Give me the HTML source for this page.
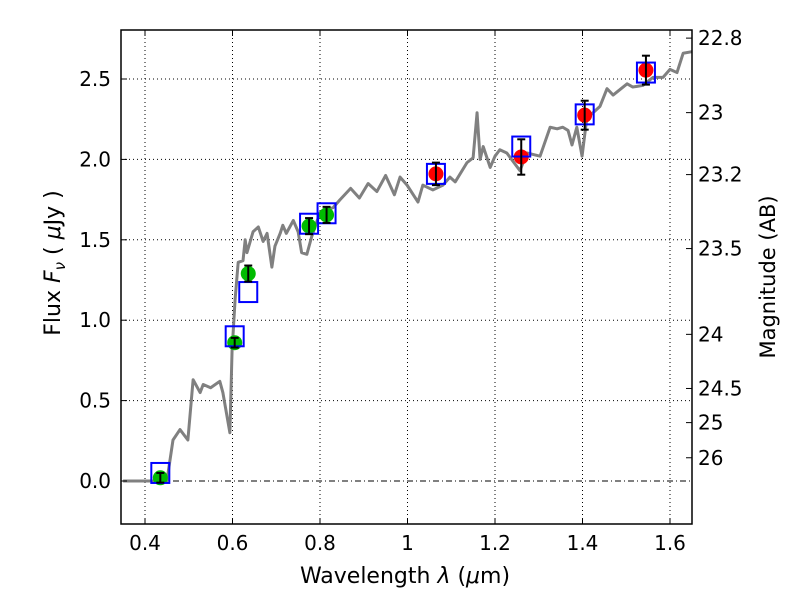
<!DOCTYPE html>
<html><head><meta charset="utf-8"><style>
body{margin:0;background:#fff}
svg{display:block;font-family:"DejaVu Sans","Liberation Sans",sans-serif}
</style></head><body>
<svg id="chart" width="800" height="600">
<g id="grid"></g>
<g id="spec"></g>
<g id="marks"></g>
<g id="axes"></g>
<text x="405" y="583" text-anchor="middle" font-size="22">Wavelength  <tspan font-style="italic">λ</tspan> (<tspan font-style="italic">μ</tspan>m)</text>
<text transform="translate(60,263) rotate(-90)" text-anchor="middle" font-size="22">Flux  <tspan font-style="italic">F</tspan><tspan font-style="italic" font-size="15" dy="5">ν</tspan><tspan dy="-5">  ( </tspan><tspan font-style="italic">μ</tspan>Jy )</text>
<text transform="translate(775,277) rotate(-90)" text-anchor="middle" font-size="21">Magnitude (AB)</text>
</svg>
<script>
const specW=[0.35,0.45,0.464,0.48,0.498,0.51,0.526,0.533,0.55,0.571,0.578,0.594,0.599,0.606,0.613,0.624,0.629,0.633,0.647,0.659,0.67,0.679,0.69,0.697,0.709,0.715,0.723,0.739,0.75,0.758,0.77,0.781,0.8,0.83,0.846,0.87,0.89,0.91,0.93,0.95,0.97,0.983,0.999,1.024,1.035,1.058,1.081,1.097,1.109,1.136,1.15,1.159,1.166,1.173,1.189,1.2,1.211,1.227,1.257,1.273,1.303,1.326,1.342,1.355,1.367,1.376,1.387,1.399,1.41,1.424,1.44,1.456,1.47,1.502,1.515,1.538,1.561,1.584,1.6,1.616,1.63,1.65];
const specF=[0,0,0.255,0.32,0.255,0.63,0.55,0.6,0.58,0.62,0.55,0.3,0.81,1.13,1.36,1.37,1.5,1.42,1.55,1.58,1.49,1.54,1.33,1.46,1.54,1.59,1.54,1.62,1.55,1.42,1.41,1.52,1.67,1.7,1.75,1.82,1.76,1.85,1.8,1.9,1.78,1.89,1.84,1.735,1.84,1.81,1.84,1.89,1.86,1.98,2.01,2.29,2.0,2.08,1.95,2.02,2.06,2.04,1.93,2.04,2.02,2.2,2.19,2.2,2.18,2.09,2.2,2.02,2.26,2.29,2.33,2.44,2.4,2.47,2.45,2.46,2.51,2.51,2.56,2.54,2.66,2.67];
const greenW=[0.435,0.605,0.636,0.775,0.815];
const greenF=[0.02,0.86,1.29,1.585,1.655];
const greenE=[0.03,0.03,0.05,0.05,0.05];
const redW=[1.065,1.26,1.405,1.545];
const redF=[1.91,2.015,2.275,2.555];
const redE=[0.07,0.11,0.09,0.09];
const modelW=[0.435,0.605,0.636,0.775,0.815,1.065,1.26,1.405,1.545];
const modelF=[0.05,0.9,1.175,1.6,1.665,1.91,2.08,2.28,2.54];
const xTicks=[0.4,0.6,0.8,1.0,1.2,1.4,1.6];
const xLabels=["0.4","0.6","0.8","1","1.2","1.4","1.6"];
const yTicks=[0,0.5,1,1.5,2,2.5];
const yLabels=["0.0","0.5","1.0","1.5","2.0","2.5"];
const magTicks=[22.8,23,23.2,23.5,24,24.5,25,26];
const magLabels=["22.8","23","23.2","23.5","24","24.5","25","26"];

const L=121,R=692,T=30,B=524;
const X=w=>145+(w-0.4)*437.5;
const Y=f=>481-f*160.8;
const NS="http://www.w3.org/2000/svg";
function mk(p,tag,a){const e=document.createElementNS(NS,tag);for(const k in a)e.setAttribute(k,a[k]);p.appendChild(e);return e;}
const grid=document.getElementById('grid'),spec=document.getElementById('spec'),marks=document.getElementById('marks'),axes=document.getElementById('axes');
xTicks.forEach((t,i)=>{
 const g=mk(grid,'line',{x1:X(t),x2:X(t),y1:T,y2:B,stroke:'#000','stroke-width':1,'stroke-dasharray':'1,3'});
 
 
 mk(axes,'line',{x1:X(t),x2:X(t),y1:B,y2:B-6,stroke:'#000'});
 mk(axes,'line',{x1:X(t),x2:X(t),y1:T,y2:T+6,stroke:'#000'});
 const tx=mk(axes,'text',{x:X(t),y:B+26,'text-anchor':'middle','font-size':20});
 tx.textContent=xLabels[i];
 
 
});
yTicks.forEach((t,i)=>{
 const g=mk(grid,'line',{x1:L,x2:R,y1:Y(t),y2:Y(t),stroke:'#000','stroke-width':1,'stroke-dasharray':t===0?'6,3,1,3':'1,3'});
 
 
 mk(axes,'line',{x1:L,x2:L+6,y1:Y(t),y2:Y(t),stroke:'#000'});
 const tx=mk(axes,'text',{x:L-10,y:Y(t)+7,'text-anchor':'end','font-size':20});
 tx.textContent=yLabels[i];
 
 
});
magTicks.forEach((m,i)=>{
 const y=Y(Math.pow(10,-0.4*(m-23.9)));
 mk(axes,'line',{x1:R,x2:R-6,y1:y,y2:y,stroke:'#000'});
 const tx=mk(axes,'text',{x:R+6,y:y+7,'font-size':20});
 tx.textContent=magLabels[i];
 
 
});
const s=mk(spec,'polyline',{points:specW.map((w,i)=>X(w)+','+Y(specF[i])).join(' '),fill:'none',stroke:'#808080','stroke-width':3,'stroke-linejoin':'round'});


function pts(W,F,E,col,name){W.forEach((w,i)=>{
 const c=mk(marks,'circle',{cx:X(w),cy:Y(F[i]),r:7.5,fill:col});
 
 
});}
pts(greenW,greenF,greenE,'#00bb00','green-point');
pts(redW,redF,redE,'#ff0000','red-point');
modelW.forEach((w,i)=>{
 const r=mk(marks,'rect',{x:X(w)-9,y:Y(modelF[i])-10,width:18,height:20,fill:'none',stroke:'#0000ff','stroke-width':2});
 
 
});
function errs(W,F,E){W.forEach((w,i)=>{
 const x=X(w),y1=Y(F[i]+E[i]),y2=Y(F[i]-E[i]);
 const g=mk(marks,'g',{stroke:'#000','stroke-width':2});
 
 
 mk(g,'line',{x1:x,x2:x,y1:y1,y2:y2});
 mk(g,'line',{x1:x-4,x2:x+4,y1:y1,y2:y1});
 mk(g,'line',{x1:x-4,x2:x+4,y1:y2,y2:y2});
});}
errs(greenW,greenF,greenE);errs(redW,redF,redE);
const f=mk(axes,'rect',{x:L,y:T,width:R-L,height:B-T,fill:'none',stroke:'#000','stroke-width':1.5});


</script>
</body></html>
